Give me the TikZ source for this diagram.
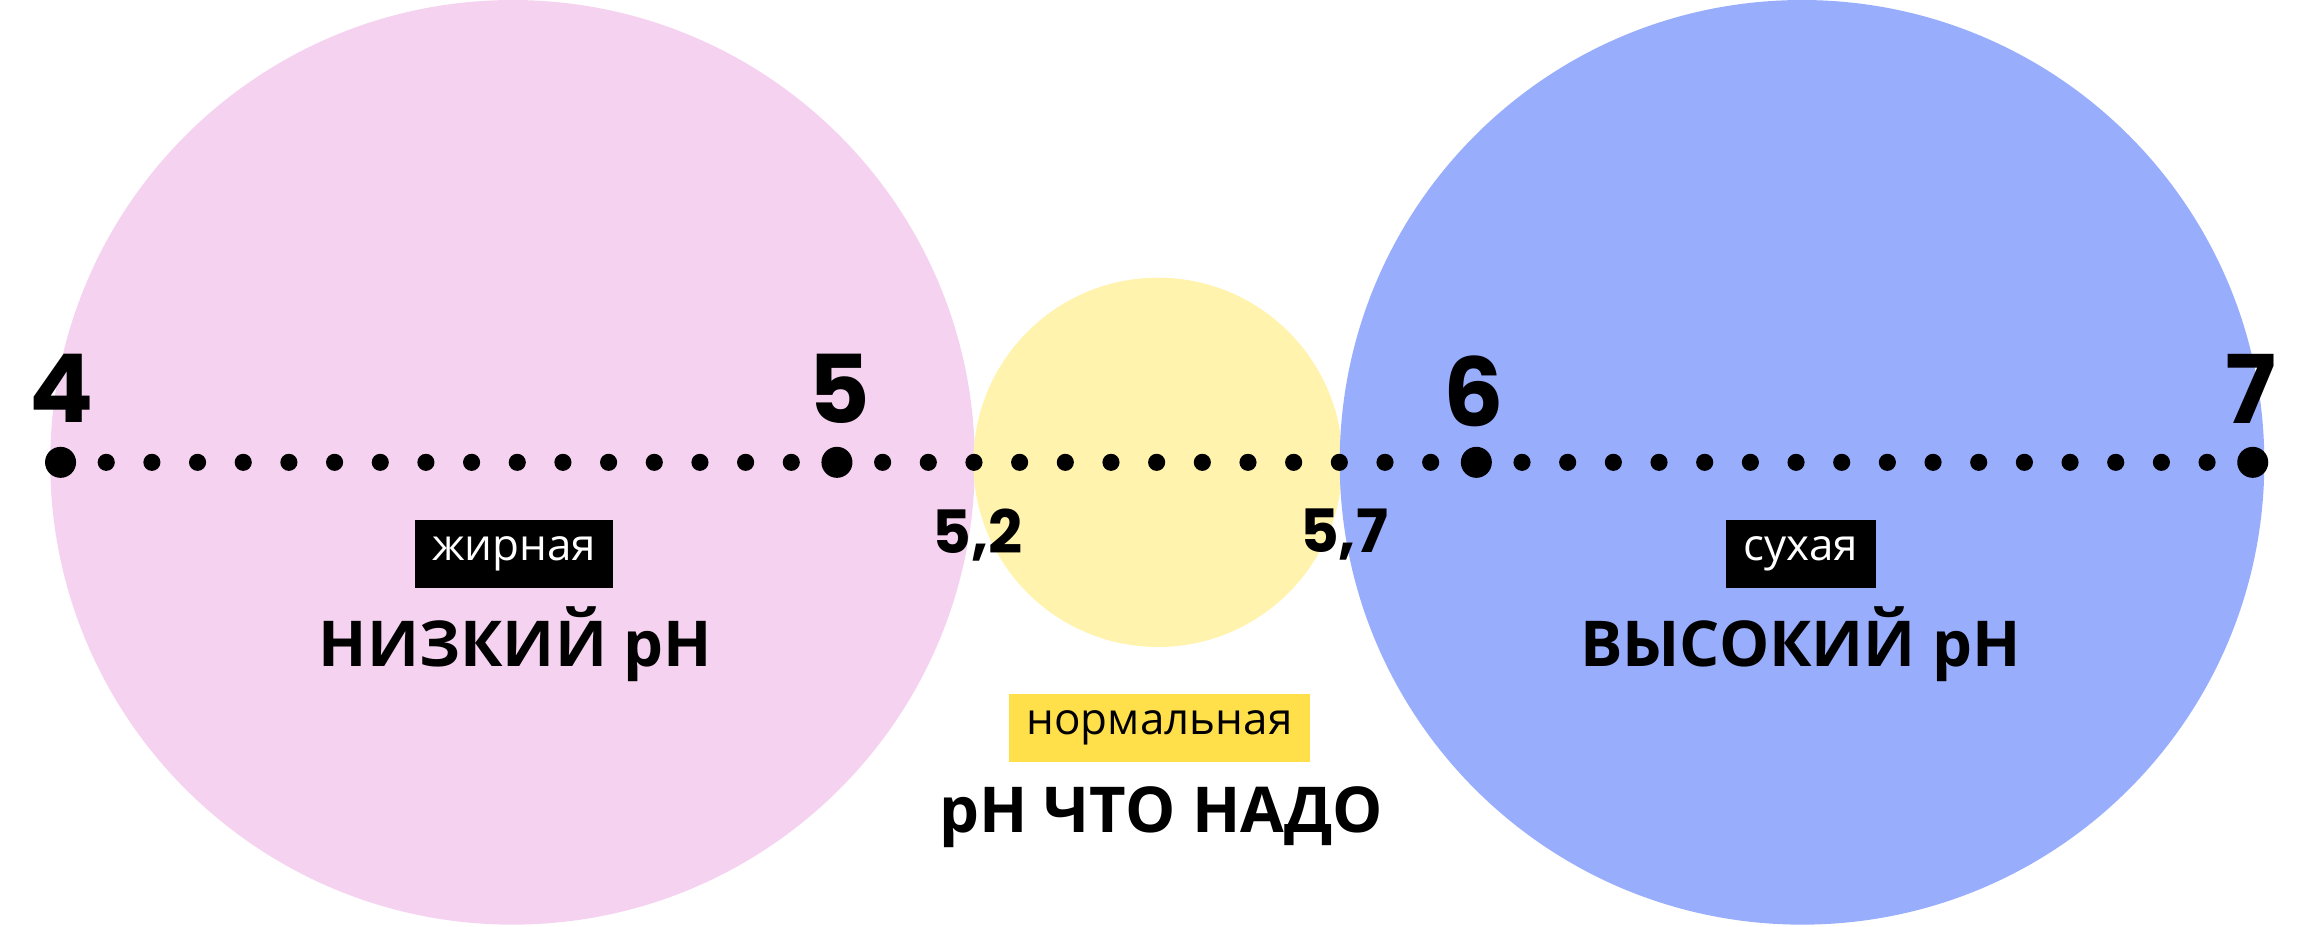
\documentclass[tikz,border=0pt]{standalone}
\usepackage{fontspec}
\setmainfont{Open Sans}
\newfontfamily\pop{Poppins}
\definecolor{pinkc}{HTML}{F5D3F0}
\definecolor{yelc}{HTML}{FFF3AE}
\definecolor{bluec}{HTML}{98AEFD}
\definecolor{tagy}{HTML}{FFE04A}
\begin{document}
\begin{tikzpicture}[x=0.01477cm,y=-0.01477cm,
  num/.style={font=\pop\bfseries\fontsize{27}{27}\selectfont},
  sub/.style={font=\pop\bfseries\fontsize{17}{17}\selectfont},
  title/.style={font=\bfseries\fontsize{18}{18}\selectfont},
  tag/.style={font=\fontsize{12.5}{12.5}\selectfont,minimum height=0.68cm,inner xsep=5pt}]
\useasboundingbox (0,0) rectangle (1568,627);
\fill[pinkc] (347,313) circle (313);
\fill[yelc] (784,313) circle (125);
\fill[bluec] (1220,313) circle (313);
\foreach \k in {0,...,48}{
  \pgfmathsetmacro\xx{41+\k*30.92}
  \fill (\xx,313) circle (5.8);
}
\foreach \k in {0,17,31,48}{
  \pgfmathsetmacro\xx{41+\k*30.92}
  \fill (\xx,313) circle (10.5);
}
\node[num] (n4) at (42,263) {4};
\node[num] (n5) at (568,263) {5};
\node[num] (n6) at (998,265) {6};
\node[num] (n7) at (1524,263) {7};
\node[sub] (n52) at (662,362) {5,2};
\node[sub] (n57) at (910,362) {5,7};
\node[tag,fill=black,text=white,minimum width=1.9cm] (t1) at (348,375) {жирная};
\node[tag,fill=black,text=white,minimum width=1.36cm] (t2) at (1219,375) {сухая};
\node[tag,fill=tagy,minimum width=2.7cm] (t3) at (785,493) {нормальная};
\node[title] (h1) at (349,436) {НИЗКИЙ pH};
\node[title] (h2) at (1219,436) {ВЫСОКИЙ pH};
\node[title] (h3) at (786,553) {pH ЧТО НАДО};
\end{tikzpicture}
\end{document}
